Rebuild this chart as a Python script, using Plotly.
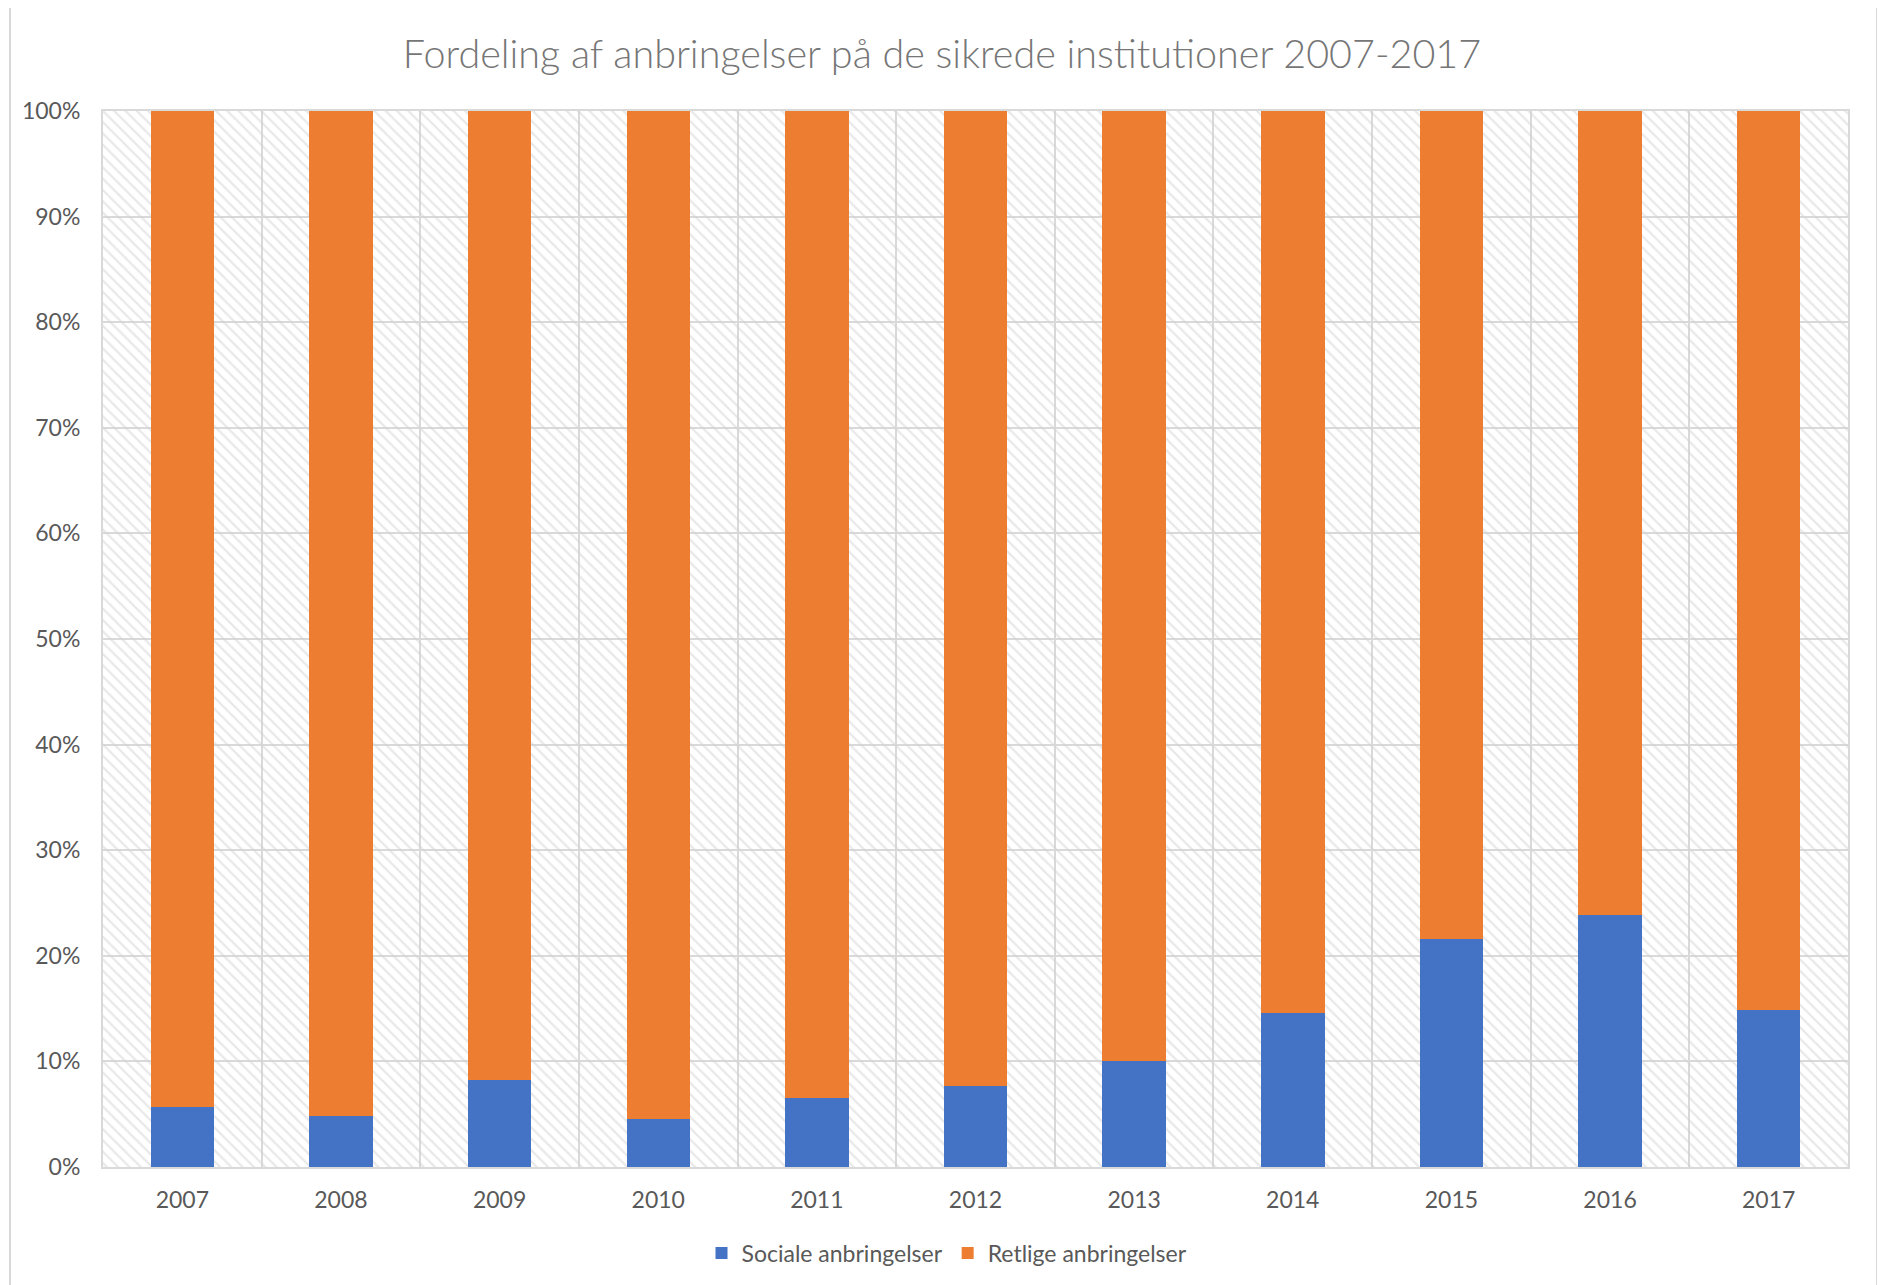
import plotly.graph_objects as go

years = ["2007", "2008", "2009", "2010", "2011", "2012", "2013", "2014", "2015", "2016", "2017"]
sociale = [0.057, 0.048, 0.082, 0.045, 0.065, 0.077, 0.100, 0.146, 0.216, 0.239, 0.149]
retlige = [round(1 - s, 3) for s in sociale]
full = [1.0] * len(years)

title_text = "Fordeling af anbringelser på de sikrede institutioner 2007-2017"
tick_vals = [0, 0.1, 0.2, 0.3, 0.4, 0.5, 0.6, 0.7, 0.8, 0.9, 1.0]
tick_text = ["0%", "10%", "20%", "30%", "40%", "50%", "60%", "70%", "80%", "90%", "100%"]

OFF = 8  # page body margin
W, H = 1885 - OFF, 1285 - OFF
L, R, T, B = 103 - OFF, 1848 - OFF, 111 - OFF, 1167 - OFF

fig = go.Figure()

# hatched plot-area background
fig.add_trace(go.Bar(
    x=years, y=full, width=1.0,
    marker=dict(color="rgba(0,0,0,0)", line=dict(width=0),
                pattern=dict(shape="\\", fgcolor="#d2d2d2", bgcolor="rgba(0,0,0,0)",
                             size=8, solidity=0.28)),
    showlegend=False, hoverinfo="skip",
))

fig.add_trace(go.Bar(
    x=years, y=sociale, width=0.4, name="Sociale anbringelser",
    marker=dict(color="#4472C4", line=dict(width=0)),
))
fig.add_trace(go.Bar(
    x=years, y=retlige, base=sociale, width=0.4, name="Retlige anbringelser",
    marker=dict(color="#ED7D31", line=dict(width=0)),
))

px_x = lambda p: (p - OFF - L) / (R - L)
px_y = lambda p: (B - (p - OFF)) / (B - T)

fig.add_shape(type="rect", xref="paper", yref="paper",
              x0=px_x(10), x1=px_x(1877), y0=px_y(1300), y1=px_y(6),
              line=dict(color="#d9d9d9", width=2), fillcolor="rgba(0,0,0,0)", layer="below")

FONT = "Lato, 'Open Sans', sans-serif"

fig.update_layout(
    width=W, height=H,
    margin=dict(l=L, r=W - R, t=T, b=H - B),
    paper_bgcolor="white", plot_bgcolor="white",
    barmode="overlay", bargap=0,
    font=dict(family=FONT, color="#595959", size=23),
    title=dict(text=title_text, x=(942 - OFF) / W, xanchor="center", xref="container",
               y=1 - (54 - OFF) / H, yanchor="middle", yref="container",
               font=dict(size=39.5, color="#767676", family=FONT, weight=300)),
    legend=dict(orientation="h", x=(947 - OFF) / W, xanchor="center", xref="container",
                y=1 - (1253 - OFF) / H, yanchor="middle", yref="container",
                font=dict(size=23, color="#595959"), traceorder="normal",
                itemwidth=30, bgcolor="rgba(0,0,0,0)"),
    xaxis=dict(type="category", tickson="boundaries", showgrid=True,
               gridcolor="#d9d9d9", gridwidth=2, ticks="", showline=True, mirror=True,
               linecolor="#d9d9d9", linewidth=2, tickfont=dict(size=23, color="#595959"),
               ticklabelstandoff=11, fixedrange=True),
    yaxis=dict(range=[0, 1], tickvals=tick_vals, ticktext=tick_text, showgrid=True,
               gridcolor="#d9d9d9", gridwidth=2, ticks="", showline=True, mirror=True,
               linecolor="#d9d9d9", linewidth=2, zeroline=False,
               tickfont=dict(size=23, color="#595959"), ticklabelstandoff=16,
               fixedrange=True),
)

fig.write_html("out.html")
